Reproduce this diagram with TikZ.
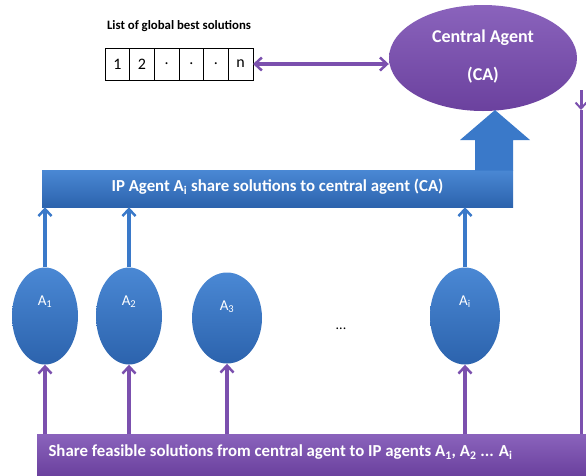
\documentclass[tikz,border=0pt]{standalone}
\usepackage{fontspec}
\setmainfont{Carlito}
\usetikzlibrary{arrows.meta,shapes.geometric,positioning}
\definecolor{pur}{HTML}{7B50AE}
\definecolor{purl}{HTML}{8A63BC}
\definecolor{purd}{HTML}{6B419E}
\definecolor{blu}{HTML}{3A79C9}
\definecolor{blul}{HTML}{4A88D4}
\definecolor{blud}{HTML}{2C63AD}
\tikzset{
  cell/.style={draw=black, line width=0.8pt, minimum width=24.67pt, minimum height=32pt, inner sep=0pt, outer sep=0pt, font=\fontsize{16}{18}\selectfont},
  agent/.style={ellipse, top color=blul, bottom color=blud, minimum width=66pt, minimum height=97pt, inner sep=0pt},
  alab/.style={text=white, font=\fontsize{15}{17}\selectfont},
  wtext/.style={text=white, font=\bfseries\fontsize{16.8}{19}\selectfont},
  catext/.style={text=white, font=\bfseries\fontsize{18}{20}\selectfont},
  bluarrow/.style={draw=blu, line width=4pt, -{Straight Barb[length=7pt,width=13pt,line width=2.5pt]}},
  purarrow/.style={draw=pur, line width=4pt, -{Straight Barb[length=7pt,width=13pt,line width=2.5pt]}},
  purline/.style={draw=pur, line width=3pt},
}
\begin{document}
\begin{tikzpicture}[x=1pt,y=-1pt]
\useasboundingbox (0,0) rectangle (586,475);

% central agent
\node[ellipse, top color=purl, bottom color=purd, minimum width=188pt, minimum height=106pt, inner sep=0pt] (ca) at (483,58) {};
\node[catext] (cat1) at (483,38) {Central Agent};
\node[catext] (cat2) at (483,75) {(CA)};

% list of global best solutions
\node[font=\bfseries\fontsize{12.8}{14}\selectfont] (title) at (179,26) {List of global best solutions};
\node[cell] (c1) at (117.33,64) {1};
\node[cell, right=0pt of c1] (c2) {2};
\node[cell, right=0pt of c2] (c3) {.};
\node[cell, right=0pt of c3] (c4) {.};
\node[cell, right=0pt of c4] (c5) {.};
\node[cell, right=0pt of c5] (c6) {n};
\draw[draw=pur, line width=4pt, {Straight Barb[length=7pt,width=13pt,line width=2.5pt]}-{Straight Barb[length=7pt,width=13pt,line width=2.5pt]}] (c6.east) -- (ca.west |- c6.east);

% IP agent bar
\node[top color=blul, bottom color=blud, minimum width=471pt, minimum height=37pt, inner sep=0pt] (ipbar) at (277.5,188.5) {};
\node[wtext] (iptext) at (277.5,187) {IP Agent A\textsubscript{i} share solutions to central agent (CA)};

% big block arrow
\fill[blu] (475,170.5) -- (475,140) -- (460,140) -- (495,110) -- (530,140) -- (513,140) -- (513,170.5) -- cycle;

% agents
\node[agent] (a1) at (45,316) {};
\node[agent] (a2) at (129,316) {};
\node[agent, minimum width=70pt, minimum height=91pt] (a3) at (227,318) {};
\node[agent, minimum width=70pt] (ai) at (465,316) {};
\node[alab] (l1) at (45,302) {A\textsubscript{1}};
\node[alab] (l2) at (129,302) {A\textsubscript{2}};
\node[alab] (l3) at (227,307) {A\textsubscript{3}};
\node[alab] (li) at (465,302) {A\textsubscript{i}};
\node[font=\fontsize{14}{16}\selectfont] (dots) at (341,329) {...};

% bottom bar
\node[top color=purl, bottom color=purd, minimum width=549pt, minimum height=41pt, inner sep=0pt, anchor=north west] (bot) at (37,434) {};
\node[wtext, anchor=west] (bottext) at (45,452) {Share feasible solutions from central agent to IP agents A\textsubscript{1}, A\textsubscript{2} ... A\textsubscript{i}};

% arrows agents -> IP bar
\draw[bluarrow] (a1.north) -- (a1.north |- ipbar.south);
\draw[bluarrow] (a2.north) -- (a2.north |- ipbar.south);
\draw[bluarrow] (ai.north) -- (ai.north |- ipbar.south);

% arrows bottom bar -> agents
\draw[purarrow] (a1.south |- bot.north) -- (a1.south);
\draw[purarrow] (a2.south |- bot.north) -- (a2.south);
\draw[purarrow] (a3.south |- bot.north) -- (a3.south);
\draw[purarrow] (ai.south |- bot.north) -- (ai.south);

% right feedback line
\coordinate (r1) at (581,90);
\coordinate (r2) at (581,110);
\draw[draw=pur, line width=3pt, -{Straight Barb[length=6pt,width=11pt,line width=2pt]}] (r1) -- (r2);
\draw[purline] (r2) -- (r2 |- bot.north);
\end{tikzpicture}
\end{document}
